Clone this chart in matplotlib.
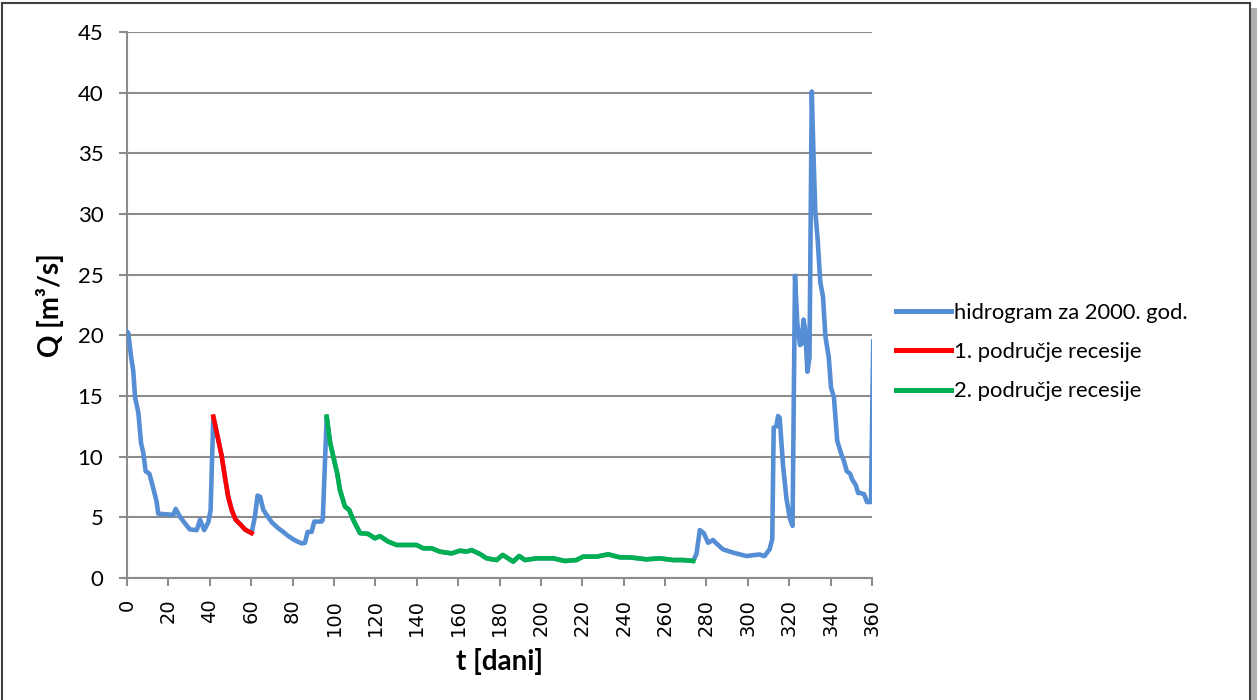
import matplotlib
matplotlib.use("Agg")
import matplotlib.pyplot as plt
import numpy as np

# ---- data ----
days = [0, 0.6, 2, 3, 3.9, 5.5, 6.8, 7.9, 9, 10.8, 12.7, 14.3, 15.1, 22.4, 23.5, 25.6,
        28, 30.4, 33.7, 35.3, 37.3, 39.3, 40.4, 41.7,
        44.1, 45.7, 47.3, 48.9, 50.6, 52.5, 54.6, 57, 60.2,
        61.8, 63.1, 64.3, 65.9, 67.5, 69.9, 73.1, 75.5, 77.9, 81.2, 84.4, 86, 87.3,
        89.2, 90.5, 94, 94.6, 96.5,
        98.1, 99.7, 101.6, 102.9, 105.3, 107.4, 109.3, 112.6, 116.6, 119.8, 122.2,
        126.2, 130.3, 139.9, 143.1, 147.2, 151.2, 156.8, 160.9, 164.1, 166.5, 170.5,
        173.8, 178.6, 181.5, 183.4, 186.6, 189.5, 192.3, 197.9, 206, 211.6, 217.2,
        220.4, 226.9, 232.5, 238.2, 243, 251, 257.5, 263.9, 268.7, 273.6,
        275.2, 276.8, 278.7, 280.8, 283.2, 284.8, 288, 292.9, 299.3, 305.6, 308,
        310.5, 311.8, 312.5, 313.8, 314.6, 315.4, 317, 318.7, 320.3, 321.6, 322.8,
        323.9, 325.2, 326, 326.9, 327.7, 328.8, 329.8, 330.9, 331.8, 332.6, 333.7,
        335, 336.3, 337.5, 339.1, 340.2, 341.6, 343.2, 344.8, 346.5, 347.8, 349.4,
        350.5, 352.2, 353.3, 354.6, 356.2, 357.6, 359.5, 360.6]
flow = [20.3, 20.2, 18.2, 17.1, 14.9, 13.6, 11.1, 10.3, 8.8, 8.6, 7.4, 6.3, 5.3, 5.2, 5.7, 5.05,
        4.5, 4.0, 3.95, 4.8, 3.95, 4.6, 5.6, 13.3,
        11.4, 10.1, 8.35, 6.7, 5.6, 4.8, 4.45, 4.0, 3.7,
        5.05, 6.8, 6.7, 5.6, 5.2, 4.6, 4.1, 3.8, 3.46, 3.1, 2.85, 2.9, 3.8,
        3.8, 4.65, 4.65, 4.8, 13.3,
        11.2, 10.0, 8.6, 7.25, 5.9, 5.6, 4.8, 3.7, 3.63, 3.27, 3.45,
        3.0, 2.72, 2.72, 2.45, 2.45, 2.17, 2.03, 2.25, 2.17, 2.3, 1.98,
        1.62, 1.48, 1.9, 1.7, 1.35, 1.81, 1.48, 1.62, 1.62, 1.4, 1.48,
        1.76, 1.76, 1.95, 1.7, 1.7, 1.54, 1.62, 1.48, 1.48, 1.4,
        2.0, 3.95, 3.7, 2.9, 3.13, 2.85, 2.36, 2.09, 1.81, 1.94, 1.8,
        2.36, 3.2, 12.4, 12.5, 13.35, 13.2, 9.3, 6.5, 4.9, 4.3, 24.9,
        21.0, 19.2, 19.3, 21.3, 20.5, 17.0, 18.2, 40.1, 34.4, 30.2, 28.0,
        24.4, 23.2, 19.9, 18.2, 15.7, 14.9, 11.3, 10.4, 9.6, 8.8, 8.6,
        8.1, 7.65, 7.0, 7.0, 6.9, 6.26, 6.26, 19.5]

recession1 = (41.7, 60.2)
recession2 = (96.5, 273.6)

series_labels = ["hidrogram za 2000. god.", "1. područje recesije", "2. područje recesije"]
x_ticks = list(range(0, 361, 20))
y_ticks = list(range(0, 46, 5))

# ---- plot ----
plt.rcParams['font.family'] = ['Lato', 'DejaVu Sans']
W, H = 1257, 700
fig = plt.figure(figsize=(W / 100, H / 100), dpi=100)
ax = fig.add_axes([127 / W, 1 - 578 / H, 745 / W, 546 / H])

d = np.array(days)
q = np.array(flow)
blue, red, green = "#558ED5", "#FF0000", "#00B050"
lw = 3.3

ax.plot(d, q, color=blue, lw=lw, label=series_labels[0], solid_joinstyle='round', zorder=3)
m1 = (d >= recession1[0]) & (d <= recession1[1])
ax.plot(d[m1], q[m1], color=red, lw=lw, label=series_labels[1], solid_joinstyle='round', zorder=4)
m2 = (d >= recession2[0]) & (d <= recession2[1])
ax.plot(d[m2], q[m2], color=green, lw=lw, label=series_labels[2], solid_joinstyle='round', zorder=4)

ax.set_xlim(0, 360)
ax.set_ylim(0, 45)
ax.set_xticks(x_ticks)
ax.set_yticks(y_ticks)
ax.set_xticklabels([str(t) for t in x_ticks], rotation=90, fontsize=14,
                   family=['DejaVu Sans'])
ax.set_yticklabels([str(t) for t in y_ticks], fontsize=16)
ax.yaxis.grid(True, color="#8C8C8C", lw=1.5)
ax.set_axisbelow(True)
for s in ["top", "right"]:
    ax.spines[s].set_visible(False)
for s in ["left", "bottom"]:
    ax.spines[s].set_color("#8C8C8C")
    ax.spines[s].set_linewidth(1.5)
ax.tick_params(axis='both', colors="#8C8C8C", labelcolor="black", length=6, width=1.5, direction='out')
ax.tick_params(axis='y', pad=11)
ax.tick_params(axis='x', pad=9)

ax.set_xlabel("t [dani]", fontsize=20, fontweight='bold', labelpad=9)
ax.set_ylabel("Q [m³/s]", fontsize=20, fontweight='bold', labelpad=10)

leg = fig.legend(loc='center left', bbox_to_anchor=(896 / W, 1 - 352 / H), frameon=False,
                 fontsize=15.8, handlelength=2.5, handletextpad=0.15, labelspacing=0.88,
                 borderaxespad=0, borderpad=0)
for line in leg.get_lines():
    line.set_linewidth(3.6)

# outer frame
frame_col = "#404040"
fig.add_artist(plt.Line2D([2 / W, 2 / W], [0, 1 - 3 / H], transform=fig.transFigure, color=frame_col, lw=1.5))
fig.add_artist(plt.Line2D([2 / W, 1250 / W], [1 - 3 / H, 1 - 3 / H], transform=fig.transFigure, color=frame_col, lw=1.5))
fig.add_artist(plt.Line2D([1250 / W, 1250 / W], [0, 1 - 3 / H], transform=fig.transFigure, color=frame_col, lw=1.5))
fig.add_artist(plt.Rectangle((1251 / W, 0), 6 / W, 1 - 8 / H, transform=fig.transFigure,
                             facecolor="#B0B0B0", edgecolor='none'))

fig.savefig("out.png", dpi=100)
